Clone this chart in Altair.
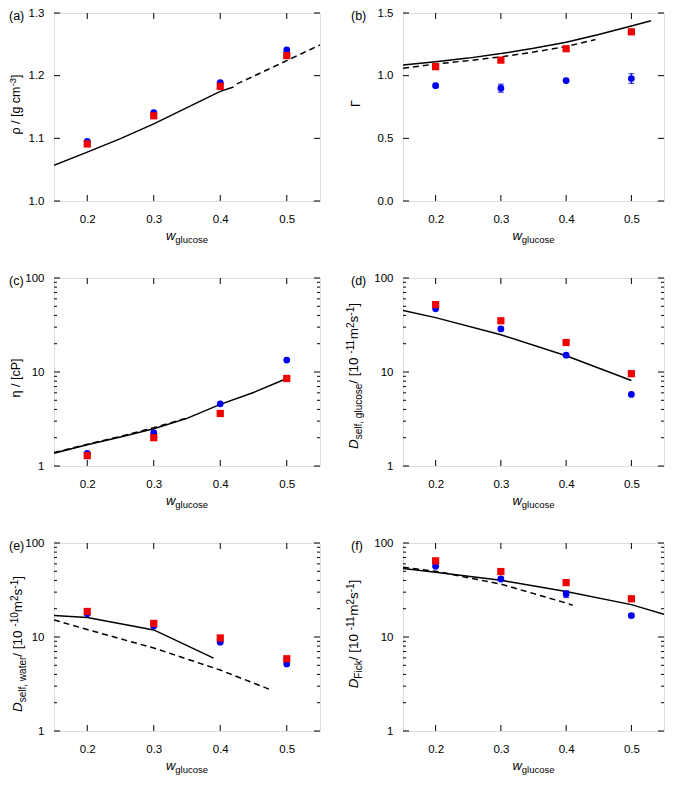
import altair as alt
import pandas as pd

FONT = "Liberation Sans"
BLUE = "#0000f0"
RED = "#f00000"

# ---------------- data ----------------
W = [0.2, 0.3, 0.4, 0.5]
X_TICKS = [0.2, 0.3, 0.4, 0.5]

# (a) density
A_BLUE = [1.095, 1.141, 1.189, 1.241]
A_RED = [1.091, 1.136, 1.183, 1.232]
A_SOLID_X = [0.15, 0.2, 0.25, 0.3, 0.35, 0.4, 0.42]
A_SOLID_Y = [1.057, 1.078, 1.0995, 1.123, 1.149, 1.175, 1.182]
A_DASH_X = [0.425, 0.45, 0.5, 0.55]
A_DASH_Y = [1.187, 1.199, 1.224, 1.249]
A_YTICKS = [1.0, 1.1, 1.2, 1.3]

# (b) thermodynamic factor
B_BLUE = [0.92, 0.90, 0.961, 0.977]
B_BLUE_ERR = [0.01, 0.032, 0.012, 0.039]
B_RED = [1.072, 1.124, 1.215, 1.35]
B_SOLID_X = [0.15, 0.2, 0.25, 0.3, 0.35, 0.4, 0.45, 0.5, 0.53]
B_SOLID_Y = [1.085, 1.111, 1.14, 1.176, 1.218, 1.267, 1.329, 1.396, 1.438]
B_DASH_X = [0.15, 0.2, 0.25, 0.3, 0.35, 0.4, 0.445]
B_DASH_Y = [1.06, 1.093, 1.12, 1.15, 1.188, 1.233, 1.288]
B_YTICKS = [0.0, 0.5, 1.0, 1.5]

# (c) viscosity
C_BLUE = [1.36, 2.25, 4.59, 13.4]
C_RED = [1.29, 2.0, 3.62, 8.53]
C_SOLID_X = [0.15, 0.2, 0.25, 0.3, 0.35, 0.4, 0.45, 0.5]
C_SOLID_Y = [1.37, 1.68, 2.03, 2.49, 3.21, 4.52, 6.06, 8.53]
C_DASH_X = [0.15, 0.2, 0.25, 0.3, 0.35]
C_DASH_Y = [1.39, 1.70, 2.07, 2.56, 3.24]

# (d) self diffusion glucose
D_BLUE = [47.0, 28.7, 15.1, 5.78]
D_RED = [52.1, 35.1, 20.6, 9.6]
D_SOLID_X = [0.15, 0.2, 0.3, 0.4, 0.5]
D_SOLID_Y = [45.2, 37.9, 24.9, 14.9, 8.13]

# (e) self diffusion water
E_BLUE = [17.7, 13.1, 8.8, 5.17]
E_RED = [18.7, 13.96, 9.77, 5.87]
E_SOLID_X = [0.15, 0.2, 0.3, 0.39]
E_SOLID_Y = [16.9, 16.1, 11.9, 5.97]
E_DASH_X = [0.15, 0.2, 0.3, 0.4, 0.475]
E_DASH_Y = [15.2, 12.0, 7.64, 4.45, 2.76]

# (f) Fick diffusion
F_BLUE = [56.5, 41.4, 28.7, 16.9]
F_BLUE_ERR = [1.2, 1.5, 2.4, 0.8]
F_RED = [64.6, 49.7, 37.9, 25.5]
F_SOLID_X = [0.15, 0.2, 0.3, 0.4, 0.5, 0.55]
F_SOLID_Y = [53.4, 48.9, 40.1, 30.4, 22.1, 17.4]
F_DASH_X = [0.15, 0.2, 0.3, 0.4, 0.41]
F_DASH_Y = [55.1, 50.1, 36.5, 23.0, 21.8]

LOG_MAJOR = [1, 10, 100]
LOG_MINOR = [2, 3, 4, 5, 6, 7, 8, 9, 20, 30, 40, 50, 60, 70, 80, 90]

# ---------------- layout ----------------
H = 188
W_LEFT = 266
W_RIGHT = 261
MAJ = 6
MIN = 3
NBSP = "\u00a0"

WID = {" ": 278, NBSP: 278, "/": 278, "[": 278, "]": 278, "(": 333, ")": 333,
       ",": 278, "-": 333, "a": 556, "c": 500, "e": 556, "f": 278, "g": 556,
       "i": 222, "k": 500, "l": 222, "m": 833, "o": 556, "r": 333, "s": 500,
       "t": 278, "u": 556, "w": 722, "D": 722, "F": 611, "P": 667, "ρ": 578,
       "η": 556, "Γ": 556}


def tw(s, size):
    return sum(WID.get(c, 556) for c in s) * size / 1000.0


def txt(s, px, py, size, italic=False, angle=0):
    return alt.Chart(alt.Data(values=[{"k": 1}])).mark_text(
        text=s, font=FONT, fontSize=size,
        fontStyle="italic" if italic else "normal",
        angle=angle, align="left", baseline="alphabetic", color="black",
    ).encode(x=alt.value(px), y=alt.value(py))


def ytitle(pieces, cy, bx, base=12.5, small=9.5):
    def size_of(k):
        return base if k == "n" else small
    total = sum(tw(t, size_of(k)) for t, k, _ in pieces)
    y = cy + total / 2
    out = []
    for t, k, it in pieces:
        size = size_of(k)
        shift = 3.5 if k == "sub" else (-4 if k == "sup" else 0)
        out.append(txt(t, bx + shift, y, size, it, 270))
        y -= tw(t, size)
    return out


def xtitle(width):
    total = tw("w", 13) + tw("glucose", 9.5)
    x = width / 2 - total / 2
    out = [txt("w", x, H + 39, 13, True)]
    out.append(txt("glucose", x + tw("w", 13), H + 42, 9.5))
    return out


def panel(label, width, ylog, ydom, yticks, yfmt, blue, red, lines,
          title_layers, lab_x, blue_err=None):
    xsc = alt.Scale(domain=[0.15, 0.55], nice=False, zero=False)
    if ylog:
        ysc = alt.Scale(type="log", domain=ydom, nice=False)
    else:
        ysc = alt.Scale(domain=ydom, nice=False, zero=False)
    common = dict(ticks=False, tickSize=0, domain=False, grid=False,
                  labelFont=FONT, labelFontSize=11.5, labelColor="black",
                  title=None, labelFlush=False, labelOverlap=False)
    xax = alt.Axis(values=X_TICKS, format=".1f", labelPadding=12, **common)
    yax = alt.Axis(values=yticks, format=yfmt, labelPadding=10, **common)

    def X(f="x"):
        return alt.X(f"{f}:Q", scale=xsc, axis=xax)

    def Y(f="y"):
        return alt.Y(f"{f}:Q", scale=ysc, axis=yax)

    layers = []
    for xs, ys, dashed in lines:
        df = pd.DataFrame({"x": xs, "y": ys})
        kw = dict(color="black", strokeWidth=1.5, clip=True)
        if dashed:
            kw["strokeDash"] = [6, 4]
        layers.append(alt.Chart(df).mark_line(**kw).encode(x=X(), y=Y()))

    if blue_err is not None:
        edf = pd.DataFrame({"x": W,
                            "y": [b - e for b, e in zip(blue, blue_err)],
                            "y2": [b + e for b, e in zip(blue, blue_err)]})
        layers.append(alt.Chart(edf).mark_rule(color=BLUE, strokeWidth=1.2)
                      .encode(x=X(), y=Y(), y2="y2:Q"))
        cdf = pd.DataFrame({"x": W * 2,
                            "y": list(edf["y"]) + list(edf["y2"])})
        layers.append(alt.Chart(cdf).mark_tick(color=BLUE, size=6, thickness=1.2,
                                               orient="horizontal")
                      .encode(x=X(), y=Y()))

    bdf = pd.DataFrame({"x": W, "y": blue})
    rdf = pd.DataFrame({"x": W, "y": red})
    layers.append(alt.Chart(bdf).mark_circle(color=BLUE, size=46, opacity=1)
                  .encode(x=X(), y=Y()))
    layers.append(alt.Chart(rdf).mark_square(color=RED, size=52, opacity=1)
                  .encode(x=X(), y=Y()))

    # inward ticks on all four sides
    def yticks_layer(vals, ln):
        df = pd.DataFrame({"y": vals})
        return [
            alt.Chart(df).mark_rule(color="black", strokeWidth=1)
            .encode(y=Y(), x=alt.value(0), x2=alt.value(ln)),
            alt.Chart(df).mark_rule(color="black", strokeWidth=1)
            .encode(y=Y(), x=alt.value(width - ln), x2=alt.value(width)),
        ]

    xdf = pd.DataFrame({"x": X_TICKS})
    layers.append(alt.Chart(xdf).mark_rule(color="black", strokeWidth=1)
                  .encode(x=X(), y=alt.value(H), y2=alt.value(H - MAJ)))
    layers.append(alt.Chart(xdf).mark_rule(color="black", strokeWidth=1)
                  .encode(x=X(), y=alt.value(0), y2=alt.value(MAJ)))
    if ylog:
        layers += yticks_layer(LOG_MAJOR, MAJ)
        layers += yticks_layer(LOG_MINOR, MIN)
    else:
        layers += yticks_layer(yticks, MAJ)

    # texts
    layers.append(txt(label, lab_x, 7, 12.5))
    layers += title_layers
    layers += xtitle(width)

    return alt.layer(*layers).properties(width=width, height=H)


def dtitle(sub, exp):
    return [("D", "n", True), (sub, "sub", False),
            (NBSP + "/" + NBSP + "[10", "n", False),
            (exp, "sup", False), ("m", "n", False), ("2", "sup", False),
            ("s", "n", False), ("-1", "sup", False), ("]", "n", False)]


pa = panel("(a)", W_LEFT, False, [1.0, 1.3], A_YTICKS, ".1f", A_BLUE, A_RED,
           [(A_SOLID_X, A_SOLID_Y, False), (A_DASH_X, A_DASH_Y, True)],
           ytitle([("ρ / [g cm", "n", False), ("-3", "sup", False),
                   ("]", "n", False)], 91.5, -34), -45)
pb = panel("(b)", W_RIGHT, False, [0.0, 1.5], B_YTICKS, ".1f", B_BLUE, B_RED,
           [(B_SOLID_X, B_SOLID_Y, False), (B_DASH_X, B_DASH_Y, True)],
           ytitle([("Γ", "n", False)], 90.5, -43), -52, blue_err=B_BLUE_ERR)
pc = panel("(c)", W_LEFT, True, [1, 100], LOG_MAJOR, "d", C_BLUE, C_RED,
           [(C_SOLID_X, C_SOLID_Y, False), (C_DASH_X, C_DASH_Y, True)],
           ytitle([("η / [cP]", "n", False)], 100, -34), -45)
pd_ = panel("(d)", W_RIGHT, True, [1, 100], LOG_MAJOR, "d", D_BLUE, D_RED,
            [(D_SOLID_X, D_SOLID_Y, False)],
            ytitle(dtitle("self, glucose", "-11"), 98, -45, 13.5, 10), -52)
pe = panel("(e)", W_LEFT, True, [1, 100], LOG_MAJOR, "d", E_BLUE, E_RED,
           [(E_SOLID_X, E_SOLID_Y, False), (E_DASH_X, E_DASH_Y, True)],
           ytitle(dtitle("self, water", "-10"), 101, -32, 13.5, 10), -45)
pf = panel("(f)", W_RIGHT, True, [1, 100], LOG_MAJOR, "d", F_BLUE, F_RED,
           [(F_SOLID_X, F_SOLID_Y, False), (F_DASH_X, F_DASH_Y, True)],
           ytitle(dtitle("Fick", "-11"), 91, -45, 13.5, 10), -52,
           blue_err=F_BLUE_ERR)

chart = alt.concat(pa, pb, pc, pd_, pe, pf, columns=2,
                   spacing={"row": 77, "column": 83}, bounds="flush").properties(
    autosize=alt.AutoSizeParams(type="none"),
    padding={"left": 46, "top": 5, "right": 611, "bottom": 763},
).configure_view(stroke="#111111", strokeWidth=1).configure(font=FONT)

chart.save("out.html", embed_options={"renderer": "svg", "actions": False})
